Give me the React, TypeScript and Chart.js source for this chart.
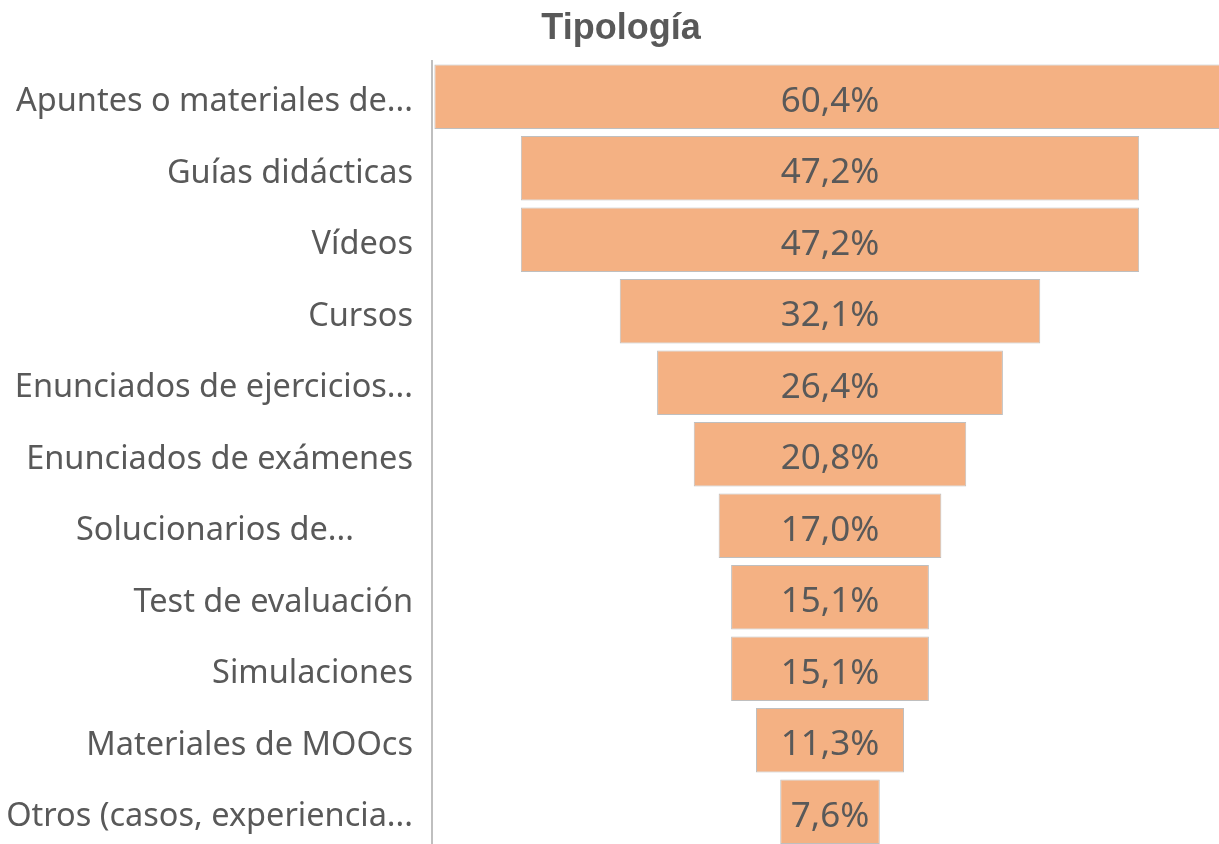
import React, { useEffect, useRef } from "react";
import { Chart, registerables } from "chart.js";

Chart.register(...registerables);

const categories = [
  "Apuntes o materiales de...",
  "Guías didácticas",
  "Vídeos",
  "Cursos",
  "Enunciados de ejercicios...",
  "Enunciados de exámenes",
  "Solucionarios de...       ",
  "Test de evaluación",
  "Simulaciones",
  "Materiales de MOOcs",
  "Otros (casos, experiencia...",
];
const values = [60.4, 47.2, 47.2, 32.1, 26.4, 20.8, 17.0, 15.1, 15.1, 11.3, 7.6];
const valueLabels = ["60,4%", "47,2%", "47,2%", "32,1%", "26,4%", "20,8%", "17,0%", "15,1%", "15,1%", "11,3%", "7,6%"];
const title = "Tipología";

const textColor = "#595959";
const labelFont = "'Noto Sans', 'Open Sans', sans-serif";

export default function App() {
  const ref = useRef<HTMLCanvasElement | null>(null);
  useEffect(() => {
    if (!ref.current) return;
    const floating = values.map((v) => [-v / 2, v / 2]);
    const labelPlugin = {
      id: "funnelLabels",
      afterDatasetsDraw(chart: any) {
        const ctx = chart.ctx;
        const meta = chart.getDatasetMeta(0);
        ctx.save();
        ctx.fillStyle = textColor;
        ctx.font = `35px ${labelFont}`;
        ctx.textAlign = "center";
        ctx.textBaseline = "middle";
        meta.data.forEach((el: any, i: number) => {
          const p = el.getProps(["x", "y", "base"], true);
          ctx.fillText(valueLabels[i], (p.x + p.base) / 2, p.y + 5);
        });
        ctx.restore();
      },
      afterDraw(chart: any) {
        const ctx = chart.ctx;
        ctx.save();
        ctx.fillStyle = textColor;
        ctx.font = `bold 36px 'Liberation Sans Narrow', 'Arial Narrow', 'Liberation Sans', sans-serif`;
        ctx.textAlign = "center";
        ctx.textBaseline = "middle";
        ctx.fillText(title, 621, 29);
        ctx.restore();
      },
    };
    const chart = new Chart(ref.current, {
      type: "bar",
      data: {
        labels: categories,
        datasets: [
          {
            data: floating as any,
            backgroundColor: "#F4B183",
            borderColor: "#BFBFBF",
            borderWidth: 1,
            borderSkipped: false,
            barPercentage: 0.9,
            categoryPercentage: 1,
          },
        ],
      },
      options: {
        indexAxis: "y",
        animation: false,
        responsive: false,
        maintainAspectRatio: false,
        layout: { padding: { top: 61, left: 0, right: 0, bottom: 0 } },
        plugins: { legend: { display: false }, tooltip: { enabled: false }, title: { display: false } },
        scales: {
          x: {
            display: false,
            min: -(830 - 432) / 13.1,
            max: (1240 - 830) / 13.1,
          },
          y: {
            grid: { display: false, drawTicks: false },
            border: { display: true, color: "#BFBFBF", width: 2 },
            ticks: {
              color: textColor,
              padding: 19,
              labelOffset: 5,
              font: { family: labelFont, size: 32.5 },
            },
            afterFit(scale: any) {
              scale.width = 432;
            },
          },
        },
      },
      plugins: [labelPlugin],
    });
    return () => chart.destroy();
  }, []);
  return (
    <div style={{ position: "fixed", left: 0, top: 0, width: 1219, height: 844, overflow: "hidden", background: "#fff" }}>
      <canvas ref={ref} width={1240} height={886} style={{ width: 1240, height: 886, display: "block" }} />
    </div>
  );
}
